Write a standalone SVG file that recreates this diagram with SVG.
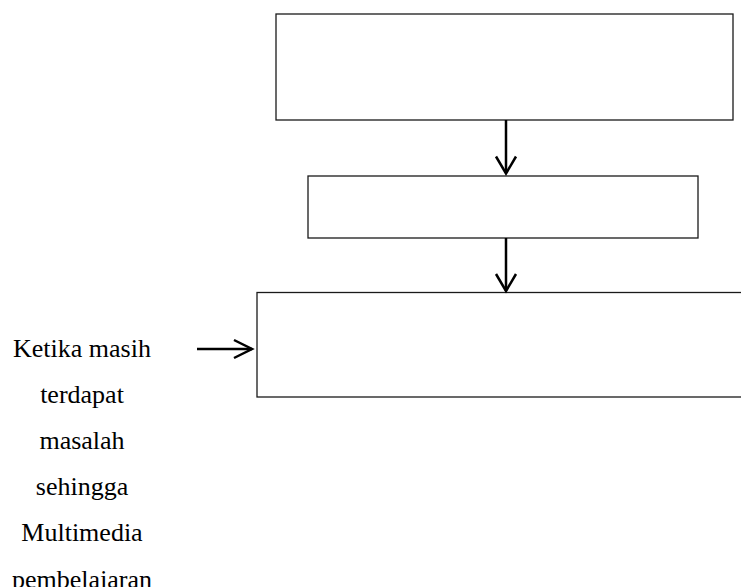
<svg xmlns="http://www.w3.org/2000/svg" width="741" height="587" viewBox="0 0 741 587">
  <style>
    .box { fill: #ffffff; stroke: #1a1a1a; stroke-width: 1.3; }
    .conn { fill: none; stroke: #000000; stroke-width: 2.5; }
    .head { fill: none; stroke: #000000; stroke-width: 2.5; stroke-linejoin: miter; }
    .lbl { font-family: "Liberation Serif", "Times New Roman", serif; font-size: 26px; fill: #000000; text-anchor: middle; }
  </style>
  <rect width="741" height="587" fill="#ffffff"/>

  <g id="box-top">
    <rect class="box" x="276" y="14" width="457" height="106"/>
  </g>
  <g id="box-middle">
    <rect class="box" x="308" y="176" width="390" height="62"/>
  </g>
  <g id="box-bottom">
    <rect class="box" x="257" y="292.5" width="500" height="104.5"/>
  </g>

  <g id="side-note">
    <text class="lbl" x="82" y="357">Ketika masih</text>
    <text class="lbl" x="82" y="403">terdapat</text>
    <text class="lbl" x="82" y="449">masalah</text>
    <text class="lbl" x="82" y="495">sehingga</text>
    <text class="lbl" x="82" y="541">Multimedia</text>
    <text class="lbl" x="82" y="588">pembelajaran</text>
  </g>

  <g id="connectors">
    <line class="conn" x1="506" y1="120" x2="506" y2="173"/>
    <polyline class="head" points="496,156.5 506,173.5 516,156.5"/>
    <line class="conn" x1="506" y1="238" x2="506" y2="291"/>
    <polyline class="head" points="496,274 506,291 516,274"/>
    <line class="conn" x1="197" y1="349" x2="252" y2="349"/>
    <polyline class="head" points="234,340 252,349 234,358"/>
  </g>
</svg>
